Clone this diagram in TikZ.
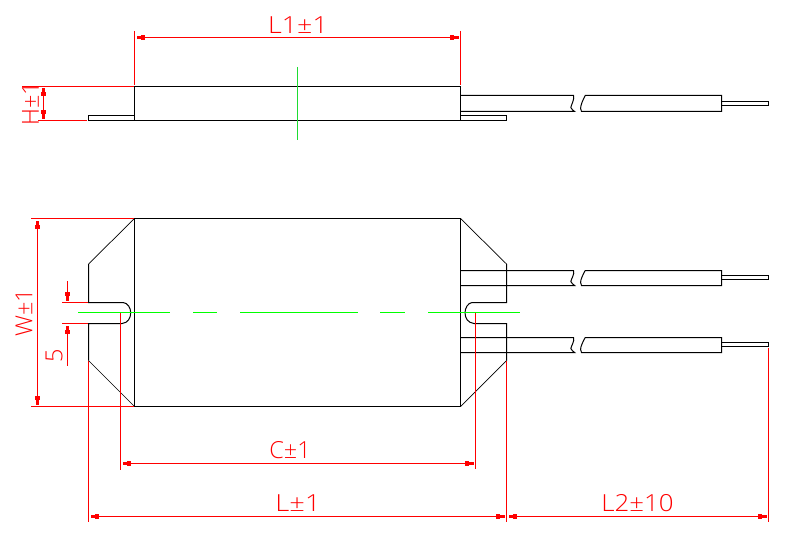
\documentclass[tikz,border=0pt]{standalone}
\usepackage{fontspec}
\setmainfont{Open Sans Light}
\usetikzlibrary{arrows.meta}
\definecolor{dimred}{RGB}{255,0,0}
\definecolor{axisgreen}{RGB}{0,255,0}
\definecolor{sidegreen}{RGB}{30,220,50}
\tikzset{
  part/.style={draw=black,line width=1pt,line join=miter},
  thinpart/.style={draw=black,line width=0.7pt},
  dimline/.style={draw=dimred,line width=1pt},
  dimtip/.tip={Rectangle[length=4pt,width=4.6pt,sep=0pt]Rectangle[length=4.5pt,width=2.8pt]},
  dimarrows/.style={dimline,{dimtip}-{dimtip}},
  dimlabel/.style={text=dimred,font=\fontsize{23.5}{24}\selectfont,inner sep=0pt,outer sep=0pt},
  wide/.style={execute at begin node=\addfontfeatures{FakeStretch=#1}},
  axis/.style={draw=axisgreen,line width=1pt}
}
% #1 top y, #2 sleeve height, #3 core offset
\newcommand{\wire}[3]{%
  \draw[part] (460.5,#1) -- (573.5,#1) .. controls (575,{#1+3}) and (571,{#1+#2-6}) .. (570.8,{#1+#2-4}) .. controls (571,{#1+#2-2}) and (574,{#1+#2-1}) .. (574.6,{#1+#2}) -- (460.5,{#1+#2});
  \draw[part] (721.5,#1) -- (585.2,#1) .. controls (583,{#1+4}) and (580.5,{#1+#2-6}) .. (580.6,{#1+#2-3}) .. controls (580.6,{#1+#2-2}) and (581,{#1+#2-1}) .. (581.5,{#1+#2}) -- (721.5,{#1+#2}) -- cycle;
  \draw[part] (721.5,{#1+#3}) rectangle (768.5,{#1+#3+4});
}
\begin{document}
\begin{tikzpicture}[x=1pt,y=-1pt]
\useasboundingbox (0,0) rectangle (791,537);
% side view
\draw[part] (134.5,86.5) rectangle (460.5,120.5);
\draw[part] (134.5,115.5) -- (88.5,115.5) -- (88.5,120.5) -- (134.5,120.5);
\draw[part] (460.5,115.5) -- (506.5,115.5) -- (506.5,120.5) -- (460.5,120.5);
\wire{95.5}{16}{6}
\draw[sidegreen,line width=1pt] (297.5,67) -- (297.5,140);
% plan view
\draw[part] (134.5,218.5) rectangle (460.5,406.5);
\draw[thinpart] (134.5,218.5) -- (88.5,264);
\draw[thinpart] (134.5,406.5) -- (88.5,360.5);
\draw[thinpart] (460.5,218.5) -- (506.5,264);
\draw[thinpart] (460.5,406.5) -- (506.5,360.5);
\draw[part] (88.5,264) -- (88.5,302.5) -- (123,302.5) .. controls (128,303) and (130.7,308) .. (130.7,312.8) .. controls (130.7,318) and (128,323) .. (122,323.5) -- (88.5,323.5) -- (88.5,360.5);
\draw[part] (506.5,264) -- (506.5,302.5) -- (472,302.5) .. controls (468,303) and (465,308) .. (465,312.8) .. controls (465,318) and (468,323) .. (474,323.5) -- (506.5,323.5) -- (506.5,360.5);
\wire{270.5}{15}{5}
\wire{337.5}{15}{5}
% centre line
\draw[axis] (78,312.5) -- (170,312.5);
\draw[axis] (193,312.5) -- (217,312.5);
\draw[axis] (240,312.5) -- (358,312.5);
\draw[axis] (380,312.5) -- (405,312.5);
\draw[axis] (428,312.5) -- (520,312.5);
% L1
\draw[dimline] (134.5,31) -- (134.5,85);
\draw[dimline] (460.5,31) -- (460.5,85);
\draw[dimarrows] (136.5,37.5) -- (458.5,37.5);
\node[dimlabel,wide=1.14] (l1) at (298,25) {L1±1};
% H
\draw[dimline] (22,86.5) -- (133.5,86.5);
\draw[dimline] (38,120.5) -- (87,120.5);
\draw[dimarrows] (43.5,88) -- (43.5,119);
\node[dimlabel,rotate=90] (h) at (30.5,104) {H±1};
% W
\draw[dimline] (31,218.5) -- (133.5,218.5);
\draw[dimline] (31,406.5) -- (133.5,406.5);
\draw[dimarrows] (37.5,220.5) -- (37.5,404.5);
\node[dimlabel,rotate=90] (w) at (24,313) {W±1};
% slot 5
\draw[dimline] (62,302.5) -- (87.5,302.5);
\draw[dimline] (62,323.5) -- (87.5,323.5);
\draw[dimline,-{dimtip}] (67.5,281) -- (67.5,300.5);
\draw[dimline,-{dimtip}] (67.5,365.6) -- (67.5,325.5);
\node[dimlabel,rotate=90] (five) at (54,355.5) {5};
% C
\draw[dimline] (120.5,313) -- (120.5,470);
\draw[dimline] (475.5,313) -- (475.5,469);
\draw[dimarrows] (122.5,463.5) -- (473.5,463.5);
\node[dimlabel] (c) at (290,450) {C±1};
% L, L2
\draw[dimline] (88.5,361) -- (88.5,522);
\draw[dimline] (506.5,361) -- (506.5,522);
\draw[dimline] (768.5,347.5) -- (768.5,522);
\draw[dimarrows] (90.5,516.5) -- (504.5,516.5);
\draw[dimarrows] (508.5,516.5) -- (766.5,516.5);
\node[dimlabel,wide=1.16] (l) at (298,503) {L±1};
\node[dimlabel,wide=1.1] (l2) at (637.5,503) {L2±10};
\end{tikzpicture}
\end{document}
